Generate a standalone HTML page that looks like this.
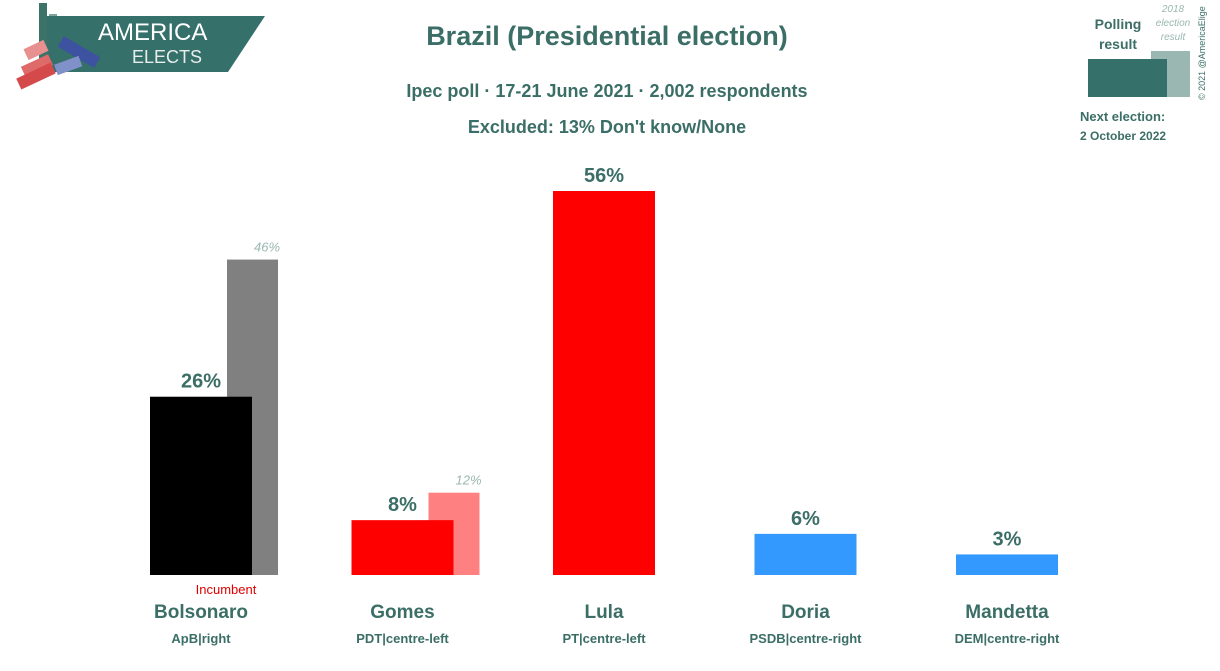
<!DOCTYPE html>
<html><head><meta charset="utf-8"><style>
body{margin:0;width:1220px;height:666px;background:#fff;overflow:hidden;font-family:"Liberation Sans",sans-serif}
svg text{font-family:"Liberation Sans",sans-serif}
</style></head><body>
<svg width="1220" height="666">
<g>
<rect x="39" y="3" width="8" height="65" fill="#3b7369"/>
<rect x="49" y="14" width="8" height="55" fill="#7fa59e"/>
<rect x="59" y="25" width="8" height="45" fill="#a9c4be"/>
<polygon points="47,16 265,16 228,72 47,72" fill="#35706a"/>
<text x="98" y="40" font-size="24" fill="#fff">AMERICA</text>
<text x="132" y="63" font-size="18" fill="#e8eeec">ELECTS</text>
<rect x="25" y="44" width="22" height="12" fill="#e89090" transform="rotate(-25 36 50)"/>
<rect x="22" y="60" width="30" height="12" fill="#df6a6a" transform="rotate(-25 37 66)"/>
<rect x="17" y="70" width="38" height="12" fill="#d44a4a" transform="rotate(-25 36 76)"/>
<rect x="58" y="46" width="42" height="12" fill="#3d52a0" transform="rotate(30 79 52)"/>
<rect x="55" y="60" width="26" height="11" fill="#8090c8" transform="rotate(-20 68 65)"/>
</g>
<g fill="#3b6e66" font-weight="bold" text-anchor="middle">
<text x="607" y="45" font-size="27">Brazil (Presidential election)</text>
<text x="607" y="97" font-size="18">Ipec poll · 17-21 June 2021 · 2,002 respondents</text>
<text x="607" y="133" font-size="18">Excluded: 13% Don't know/None</text>
</g>
<g>
<text x="1118" y="29" font-size="14" font-weight="bold" fill="#3b6e66" text-anchor="middle">Polling</text>
<text x="1118" y="49" font-size="14" font-weight="bold" fill="#3b6e66" text-anchor="middle">result</text>
<text x="1173" y="12" font-size="10" font-style="italic" fill="#9ab7b1" text-anchor="middle">2018</text>
<text x="1173" y="26" font-size="10" font-style="italic" fill="#9ab7b1" text-anchor="middle">election</text>
<text x="1173" y="40" font-size="10" font-style="italic" fill="#9ab7b1" text-anchor="middle">result</text>
<rect x="1151" y="51" width="39" height="46" fill="#9ab7b1"/>
<rect x="1088" y="59" width="79" height="38" fill="#35706a"/>
<text x="1080" y="121" font-size="13" font-weight="bold" fill="#3b6e66">Next election:</text>
<text x="1080" y="140" font-size="12" font-weight="bold" fill="#3b6e66">2 October 2022</text>
<text transform="translate(1205,100) rotate(-90)" font-size="9" fill="#3b6e66">© 2021 @AmericaElige</text>
</g>
<g id="bars"></g>
</svg>
<script>
const candidates=["Bolsonaro","Gomes","Lula","Doria","Mandetta"];
const parties=["ApB|right","PDT|centre-left","PT|centre-left","PSDB|centre-right","DEM|centre-right"];
const polling=[26,8,56,6,3];
const prev2018=[46,12,null,null,null];
const colors=["#000000","#ff0000","#ff0000","#3399ff","#3399ff"];
const prevColors=["#808080","#ff8080",null,null,null];
const base=575, pxPer=384/56;
const y=v=>base-v*pxPer;
const xStart=i=>150+i*201.5;
const ns="http://www.w3.org/2000/svg";
const g=document.getElementById("bars");
function mk(t,a,txt){const e=document.createElementNS(ns,t);for(const k in a)e.setAttribute(k,a[k]);if(txt!=null)e.textContent=txt;g.appendChild(e);return e;}
candidates.forEach((c,i)=>{
  const x=xStart(i);
  if(prev2018[i]!=null){
    const p=mk("rect",{x:x+77,y:y(prev2018[i]),width:51,height:base-y(prev2018[i]),fill:prevColors[i]});
    
    
    const pl=mk("text",{x:x+117,y:y(prev2018[i])-8,"font-size":13,"font-style":"italic",fill:"#9ab7b1","text-anchor":"middle"},prev2018[i]+"%");
    
    
  }
  const r=mk("rect",{x:x,y:y(polling[i]),width:102,height:base-y(polling[i]),fill:colors[i]});
  
  
  const l=mk("text",{x:x+51,y:y(polling[i])-9,"font-size":20,"font-weight":"bold",fill:"#3b6e66","text-anchor":"middle"},polling[i]+"%");
  
  
  const n=mk("text",{x:x+51,y:618,"font-size":19,"font-weight":"bold",fill:"#3b6e66","text-anchor":"middle"},c);
  
  
  const pt=mk("text",{x:x+51,y:643,"font-size":13,"font-weight":"bold",fill:"#3b6e66","text-anchor":"middle"},parties[i]);
  
  
});
const inc=mk("text",{x:226,y:594,"font-size":13,fill:"#e00000","text-anchor":"middle"},"Incumbent");


</script>
</body></html>
